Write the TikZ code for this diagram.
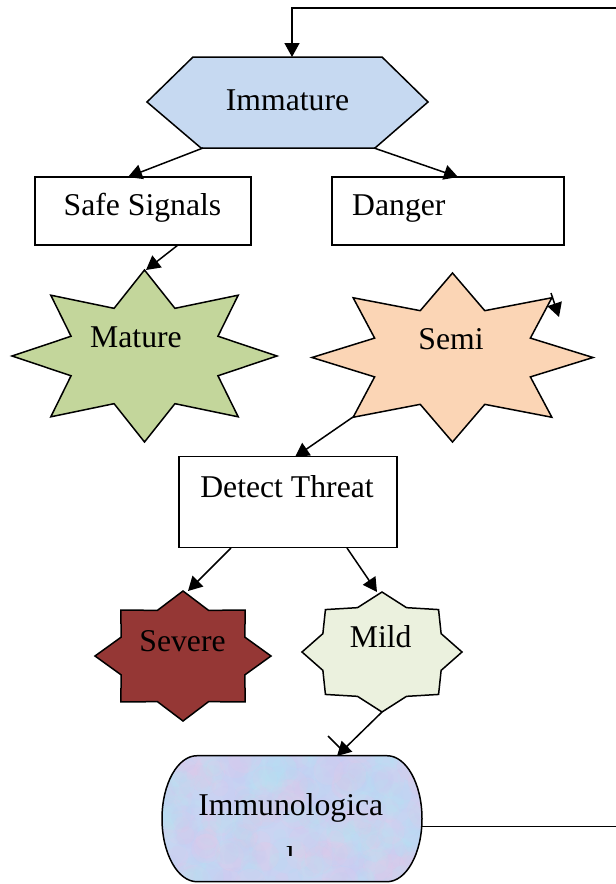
\documentclass[tikz,border=0pt]{standalone}
\usepackage{fontspec}
\setmainfont{Liberation Serif}
\usetikzlibrary{arrows.meta}

\definecolor{immfill}{HTML}{C6D9F1}
\definecolor{maturefill}{HTML}{C3D69B}
\definecolor{semifill}{HTML}{FBD5B5}
\definecolor{severefill}{HTML}{953735}
\definecolor{mildfill}{HTML}{EBF1DE}
\definecolor{termbase}{HTML}{CAD4F2}
\definecolor{blobcyan}{HTML}{B2E6F4}
\definecolor{blobpink}{HTML}{EBC8E6}
\definecolor{bloblav}{HTML}{C8CAF2}

\tikzset{
  shapeline/.style={draw=black, line width=1.5pt, line join=miter},
  boxtext/.style={inner sep=0pt, font=\fontsize{31.7}{38}\selectfont, text=black},
  conn/.style={draw=black, line width=1.5pt, -{Triangle[length=14pt,width=15pt]}},
  plainconn/.style={draw=black, line width=1.5pt},
}

% eight-pointed star: fill colour, centre x, centre y, x radius, y radius, inner ratio
\newcommand\eightstar[6]{%
  \filldraw[shapeline, fill=#1] ({#2+#4},{#3})
    \foreach \k in {0,...,7}{
      -- ({#2+#6*#4*cos(45*\k+22.5)},{#3-#6*#5*sin(45*\k+22.5)})
      -- ({#2+#4*cos(45*\k+45)},{#3-#5*sin(45*\k+45)})
    } -- cycle;}

\begin{document}
\begin{tikzpicture}[x=1pt,y=-1pt]
\useasboundingbox (0,0) rectangle (616,884);
\clip (0,0) rectangle (616,884);

% ---- Immature (hexagon)
\filldraw[shapeline, fill=immfill]
  (193,57) -- (382,57) -- (428,102) -- (375,148) -- (201,148) -- (147,102) -- cycle;
\node[boxtext, anchor=base] (immature) at (287.5,110) {Immature};
\coordinate (imm-top) at (292,57);
\coordinate (imm-bl) at (203,148);
\coordinate (imm-br) at (374,148);

% ---- signal boxes
\node[shapeline, fill=white, minimum width=216pt, minimum height=68pt, inner sep=0pt]
  (safebox) at (143,211) {};
\node[boxtext, anchor=base] (safe) at (142.5,215) {Safe Signals};
\node[shapeline, fill=white, minimum width=232pt, minimum height=68pt, inner sep=0pt]
  (dangerbox) at (448,211) {};
\node[boxtext, anchor=base west] (danger) at (352,215) {Danger};
\coordinate (safe-top) at (128,177);
\coordinate (safe-bot) at (178,245);
\coordinate (danger-top) at (458,177);

% ---- Mature / Semi stars
\eightstar{maturefill}{144.5}{356}{132.5}{86}{0.6}
\node[boxtext, anchor=base] (mature) at (136,347) {Mature};
\coordinate (mature-top) at (146,270);

\eightstar{semifill}{452.5}{357.5}{140.5}{84.5}{0.6}
\node[boxtext, anchor=base] (semi) at (451,349) {Semi};
\coordinate (semi-ll) at (353,417);
\coordinate (semi-a) at (551,293);
\coordinate (semi-b) at (559,317);

% ---- Detect Threat
\node[shapeline, fill=white, minimum width=218pt, minimum height=91pt, inner sep=0pt]
  (detectbox) at (288,502) {};
\node[boxtext, anchor=base] (detect) at (287,497) {Detect Threat};
\coordinate (det-top) at (295,457);
\coordinate (det-bl) at (231,548);
\coordinate (det-br) at (347,548);

% ---- Severe / Mild stars
\eightstar{severefill}{183}{656}{88}{65}{0.76}
\node[boxtext, anchor=base] (severe) at (182.5,651) {Severe};
\coordinate (severe-top) at (188,591);

\eightstar{mildfill}{382}{652}{80}{60}{0.8}
\node[boxtext, anchor=base] (mild) at (380.7,647) {Mild};
\coordinate (mild-top) at (377,592);
\coordinate (mild-bot) at (382,712);

% ---- Immunological (terminator with soft mottled fill)
\begin{scope}
  \clip (197,755.7) -- (387,755.7)
    arc[start angle=-90, end angle=90, x radius=35, y radius=63]
    -- (197,881.7)
    arc[start angle=90, end angle=270, x radius=35, y radius=63] -- cycle;
  \fill[termbase] (150,740) rectangle (440,884);
  \pgfmathsetseed{11}
  \foreach \i in {1,...,420}{
    \pgfmathsetmacro\px{154+276*rnd}
    \pgfmathsetmacro\py{748+140*rnd}
    \pgfmathsetmacro\pr{6+12*rnd}
    \pgfmathsetmacro\pc{rnd}
    \ifdim\pc pt<0.38pt \def\bc{blobcyan}\else
      \ifdim\pc pt<0.6pt \def\bc{blobpink}\else \def\bc{bloblav}\fi\fi
    \fill[\bc, opacity=0.16] (\px,\py) circle[radius=\pr];
  }
\end{scope}
\draw[shapeline] (197,755.7) -- (387,755.7)
    arc[start angle=-90, end angle=90, x radius=35, y radius=63]
    -- (197,881.7)
    arc[start angle=90, end angle=270, x radius=35, y radius=63] -- cycle;
\node[boxtext, anchor=base] (immuno) at (290.8,815) {Immunologica};
\begin{scope}
  \clip (270,830) rectangle (310,855);
  \node[boxtext, anchor=base] (immuno2) at (290.5,868.5) {l};
\end{scope}
\coordinate (term-top) at (337,756);
\coordinate (term-right) at (421.7,826.7);
\coordinate (tick-a) at (328,736);
\coordinate (tick-b) at (342,750);

% ---- feedback loop, off to the right and back to the top
\coordinate (loop-low) at (660,826.7);
\coordinate (loop-high) at (660,8);
\coordinate (loop-top) at (292,8);

% ---- connectors
\draw[conn] (term-right) -- (loop-low) -- (loop-high) -- (loop-top) -- (imm-top);
\draw[conn] (imm-bl) -- (safe-top);
\draw[conn] (imm-br) -- (danger-top);
\draw[conn] (safe-bot) -- (mature-top);
\draw[conn] (semi-a) -- (semi-b);
\draw[conn] (semi-ll) -- (det-top);
\draw[conn] (det-bl) -- (severe-top);
\draw[conn] (det-br) -- (mild-top);
\draw[conn] (mild-bot) -- (term-top);
\draw[plainconn] (tick-a) -- (tick-b);
\end{tikzpicture}
\end{document}
